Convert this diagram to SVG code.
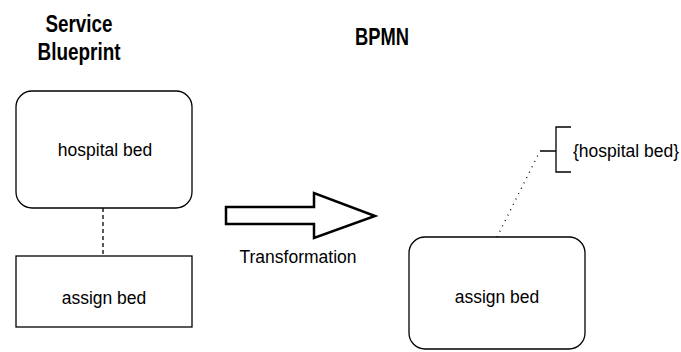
<svg xmlns="http://www.w3.org/2000/svg" width="681" height="352" viewBox="0 0 681 352">
<style>
text{font-family:"Liberation Sans",Arial,sans-serif;fill:#000}
.t{font-size:23.5px;font-weight:bold;text-anchor:middle}
.l{font-size:17.5px;text-anchor:middle}
.s{fill:#fff;stroke:#000;stroke-width:1.3}
</style>
<rect width="681" height="352" fill="#fff"/>
<text class="t" x="79" y="32" textLength="67" lengthAdjust="spacingAndGlyphs">Service</text>
<text class="t" x="79" y="60" textLength="83" lengthAdjust="spacingAndGlyphs">Blueprint</text>
<text class="t" x="382" y="45" textLength="54" lengthAdjust="spacingAndGlyphs">BPMN</text>
<g id="connectors" fill="none" stroke="#000">
<line x1="103" y1="208" x2="103" y2="256" stroke-width="1.3" stroke-dasharray="4,3"/>
<line x1="497" y1="237" x2="540" y2="151" stroke-width="1.3" stroke-dasharray="1,5"/>
</g>
<g id="hospital-bed">
<rect class="s" x="16" y="91" width="176" height="117" rx="16"/>
<text class="l" x="105" y="156">hospital bed</text>
</g>
<g id="assign-bed-sb">
<rect class="s" x="16" y="256" width="176" height="71"/>
<text class="l" x="104" y="304">assign bed</text>
</g>
<g id="transformation">
<polygon points="226,207 314,207 314,193 375,216 314,238 314,224 226,224" fill="#fff" stroke="#000" stroke-width="2.5"/>
<text class="l" x="298" y="263">Transformation</text>
</g>
<g id="assign-bed-bpmn">
<rect class="s" x="409" y="237" width="176" height="112" rx="16"/>
<text class="l" x="497" y="303">assign bed</text>
</g>
<g id="annotation">
<path d="M540,151 H556 M571,127 H556 V172 H571" fill="none" stroke="#000" stroke-width="1.3"/>
<text x="573" y="157" style="font-size:17.5px">{hospital bed}</text>
</g>
</svg>
